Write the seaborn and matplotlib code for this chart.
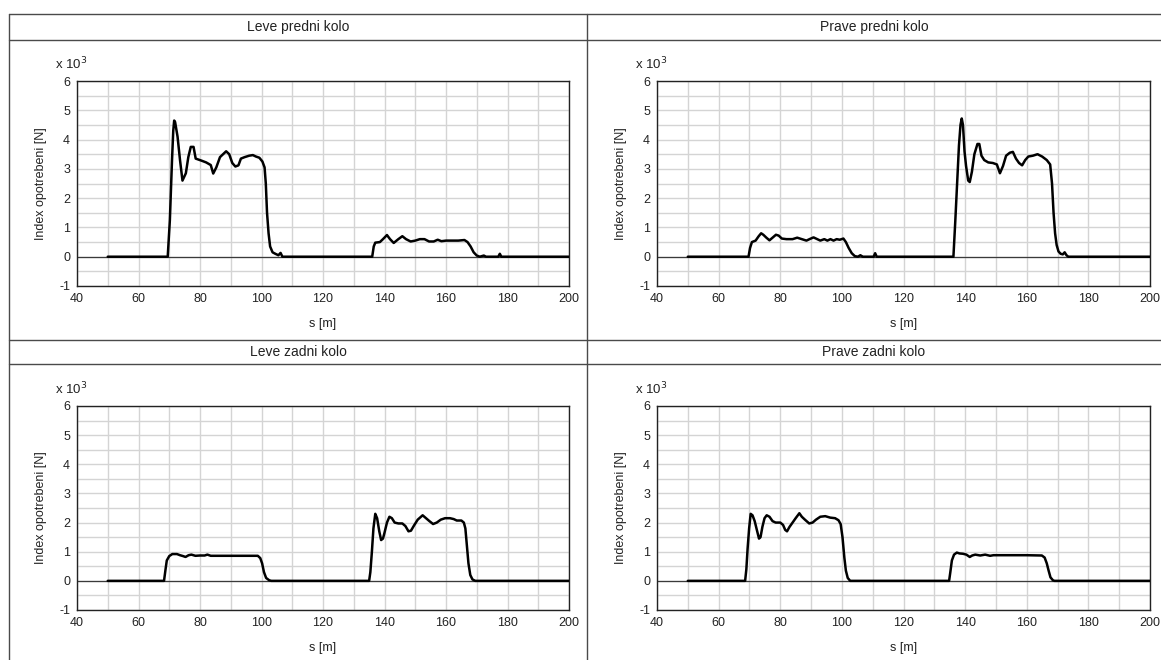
import numpy as np
import pandas as pd
import matplotlib
matplotlib.use("Agg")
import matplotlib.pyplot as plt
from matplotlib.lines import Line2D
from matplotlib.ticker import MultipleLocator
import seaborn as sns

sns.set_style("white")
plt.rcParams["font.family"] = ["Liberation Sans", "DejaVu Sans"]
plt.rcParams["axes.unicode_minus"] = False

# Wear index along the track, per wheel (values in thousands of N)
lf_s = [50, 69.5, 70.2, 70.9, 71.3, 71.6, 71.9, 72.7, 73.5, 74.3, 75.4, 76.2, 77.0, 77.9, 78.6,
        80.5, 82.0, 83.5, 84.3, 85.3, 86.5, 88.5, 89.5, 90.5, 91.5, 92.5, 93.3, 94.5, 96.0, 97.2,
        98.2, 99.3, 100.3, 101.0, 101.4, 101.8, 102.3, 102.8, 103.6, 104.5, 105.5, 106.2, 106.8,
        136.0, 136.5, 137.0, 138.5, 139.5, 140.8, 141.8, 143.0, 144.5, 145.8, 147.0, 148.5, 150.0,
        151.5, 153.0, 154.5, 156.0, 157.3, 158.5, 160.0, 162.0, 164.0, 166.0, 167.0, 168.0, 169.0,
        170.0, 171.0, 172.3, 173.0, 177.0, 177.5, 178.0, 200]
lf_v = [0, 0, 1.25, 3.3, 4.3, 4.65, 4.6, 4.1, 3.3, 2.6, 2.85, 3.4, 3.75, 3.75, 3.35,
        3.28, 3.22, 3.13, 2.84, 3.05, 3.4, 3.6, 3.5, 3.2, 3.08, 3.12, 3.35, 3.4, 3.45, 3.47,
        3.42, 3.38, 3.25, 3.05, 2.5, 1.5, 0.8, 0.35, 0.15, 0.1, 0.05, 0.13, 0,
        0, 0.35, 0.48, 0.5, 0.6, 0.74, 0.6, 0.47, 0.6, 0.7, 0.6, 0.52, 0.55,
        0.6, 0.6, 0.52, 0.52, 0.58, 0.53, 0.55, 0.55, 0.55, 0.57, 0.5, 0.35, 0.15,
        0.04, 0, 0.04, 0, 0, 0.1, 0, 0]

rf_s = [50, 69.7, 70.2, 70.8, 72.0, 73.0, 73.8, 74.5, 75.5, 76.5, 77.5, 78.6, 79.5, 80.5, 82.0,
        84.0, 85.5, 87.0, 88.5, 89.5, 90.8, 92.0, 93.0, 94.3, 95.3, 96.3, 97.3, 98.3, 99.3, 100.5,
        101.3, 102.2, 103.2, 104.2, 105.2, 106.0, 106.8, 110.3, 110.8, 111.3,
        136.2, 136.8, 137.4, 138.0, 138.5, 138.9, 139.3, 139.8, 140.3, 141.0, 141.5, 142.2, 143.0,
        144.0, 144.6, 145.3, 146.2, 147.5, 149.0, 150.3, 151.3, 152.3, 153.3, 154.5, 155.5, 156.5,
        157.5, 158.5, 159.5, 160.5, 162.0, 163.5, 165.0, 166.5, 167.6, 168.2, 168.7, 169.2, 169.7,
        170.3, 171.0, 171.7, 172.3, 172.9, 173.5, 200]
rf_v = [0, 0, 0.3, 0.5, 0.55, 0.7, 0.8, 0.75, 0.65, 0.56, 0.65, 0.75, 0.72, 0.62, 0.6,
        0.6, 0.65, 0.6, 0.55, 0.6, 0.66, 0.6, 0.55, 0.6, 0.55, 0.6, 0.55, 0.6, 0.58, 0.62,
        0.5, 0.3, 0.12, 0.02, 0, 0.05, 0, 0, 0.12, 0,
        0, 1.2, 2.5, 3.8, 4.5, 4.72, 4.5, 3.6, 3.1, 2.6, 2.55, 2.9, 3.5,
        3.85, 3.85, 3.45, 3.3, 3.22, 3.2, 3.15, 2.85, 3.1, 3.45, 3.55, 3.58, 3.35,
        3.2, 3.12, 3.3, 3.42, 3.45, 3.5, 3.42, 3.3, 3.15, 2.5, 1.5, 0.8, 0.4,
        0.18, 0.1, 0.08, 0.15, 0.05, 0, 0]

lr_s = [50, 68.3, 68.8, 69.2, 70.0, 71.0, 72.5, 73.5, 74.5, 75.3, 76.3, 77.2, 78.5, 80.0, 81.5,
        82.4, 83.5, 86.0, 90.0, 95.0, 98.8, 99.6, 100.2, 100.8, 101.5, 102.5, 103.2,
        135.0, 135.4, 135.9, 136.4, 137.0, 137.6, 138.3, 138.9, 139.5, 140.0, 140.8, 141.6, 142.4,
        143.3, 144.5, 145.8, 146.8, 147.8, 148.6, 149.6, 150.8, 152.4, 153.5, 154.6, 155.8, 157.0,
        158.3, 159.7, 161.3, 162.5, 163.5, 165.0, 165.8, 166.3, 166.8, 167.3, 167.9, 168.6, 169.5, 200]
lr_v = [0, 0, 0.4, 0.7, 0.85, 0.92, 0.92, 0.88, 0.85, 0.82, 0.88, 0.9, 0.86, 0.87, 0.87,
        0.9, 0.86, 0.86, 0.86, 0.86, 0.86, 0.78, 0.6, 0.3, 0.1, 0.02, 0,
        0, 0.3, 1.0, 1.8, 2.3, 2.15, 1.7, 1.4, 1.45, 1.65, 2.0, 2.2, 2.15,
        2.0, 1.97, 1.97, 1.88, 1.7, 1.72, 1.9, 2.1, 2.25, 2.15, 2.05, 1.95, 2.0,
        2.1, 2.15, 2.15, 2.12, 2.07, 2.07, 2.0, 1.8, 1.2, 0.6, 0.2, 0.05, 0, 0]

rr_s = [50, 68.6, 69.0, 69.4, 69.9, 70.4, 71.0, 71.7, 72.4, 73.1, 73.6, 74.2, 74.9, 75.6, 76.5,
        77.5, 78.5, 80.0, 80.9, 81.6, 82.2, 83.0, 84.0, 85.0, 86.2, 87.0, 88.0, 89.4, 90.5, 91.6,
        93.0, 94.6, 96.2, 97.8, 98.9, 99.6, 100.2, 100.8, 101.3, 101.9, 102.7,
        134.8, 135.2, 135.7, 136.4, 137.3, 138.2, 139.3, 140.4, 141.5, 142.3, 143.3, 144.9, 146.5,
        148.1, 149.2, 152.0, 156.0, 160.0, 164.9, 165.8, 166.5, 167.1, 167.7, 168.5, 169.0, 200]
rr_v = [0, 0, 0.4, 1.1, 1.8, 2.3, 2.25, 2.05, 1.75, 1.45, 1.5, 1.85, 2.15, 2.25, 2.2,
        2.05, 2.0, 2.0, 1.92, 1.75, 1.7, 1.85, 2.0, 2.15, 2.32, 2.2, 2.1, 1.97, 2.0, 2.1,
        2.2, 2.22, 2.17, 2.15, 2.08, 1.95, 1.5, 0.8, 0.35, 0.1, 0,
        0, 0.3, 0.7, 0.9, 0.97, 0.94, 0.93, 0.9, 0.82, 0.87, 0.9, 0.87, 0.9,
        0.86, 0.88, 0.88, 0.88, 0.88, 0.87, 0.8, 0.6, 0.35, 0.12, 0.02, 0, 0]

titles = ["Leve predni kolo", "Prave predni kolo", "Leve zadni kolo", "Prave zadni kolo"]
series = [(lf_s, lf_v), (rf_s, rf_v), (lr_s, lr_v), (rr_s, rr_v)]
x_label = "s [m]"
y_label = "Index opotrebeni [N]"
x_ticks = [40, 60, 80, 100, 120, 140, 160, 180, 200]
y_ticks = [-1, 0, 1, 2, 3, 4, 5, 6]

W, H = 1161, 660
fig = plt.figure(figsize=(W / 100, H / 100), dpi=100)

def px_rect(left, top, right, bottom):
    return [left / W, 1 - bottom / H, (right - left) / W, (bottom - top) / H]

axes_px = [(77, 81, 569, 286), (657, 81, 1150, 286),
           (77, 406, 569, 610), (657, 406, 1150, 610)]
header_centers = [(298, 27), (874, 27), (298, 352), (874, 352)]

for (s, v), title, box, hc in zip(series, titles, axes_px, header_centers):
    ax = fig.add_axes(px_rect(*box))
    df = pd.DataFrame({"s": s, "v": v})
    ax.axhline(0, color="#3a3a3a", lw=0.9, zorder=2)
    sns.lineplot(data=df, x="s", y="v", ax=ax, color="black", lw=1.8,
                 estimator=None, sort=False, zorder=3)
    ax.set_xlim(40, 200)
    ax.set_ylim(-1, 6)
    ax.set_xticks(x_ticks)
    ax.set_yticks(y_ticks)
    ax.xaxis.set_minor_locator(MultipleLocator(10))
    ax.yaxis.set_minor_locator(MultipleLocator(0.5))
    ax.grid(which="both", color="#d4d4d4", lw=1.0, zorder=0)
    ax.set_axisbelow(True)
    ax.tick_params(which="both", direction="out", length=4, width=0.8,
                   color="#333333", labelsize=9, labelcolor="#222222", pad=1)
    for sp in ax.spines.values():
        sp.set_color("#222222")
        sp.set_linewidth(1.0)
    ax.set_xlabel(x_label, fontsize=9, color="#222222")
    ax.set_ylabel(y_label, fontsize=9, color="#222222")
    ax.xaxis.set_label_coords(0.5, -0.155)
    ax.yaxis.set_label_coords(-0.06, 0.5)
    ax.text(-0.045, 1.085, r"x 10$^3$", transform=ax.transAxes, fontsize=9.5,
            color="#222222", ha="left", va="center")
    fig.text(hc[0] / W, 1 - hc[1] / H, title, fontsize=10, color="#222222",
             ha="center", va="center")

# Table frame around the four panels
frame_color = "#4a4a4a"
def hline(y, x0=9, x1=W):
    fig.add_artist(Line2D([x0 / W, x1 / W], [1 - y / H, 1 - y / H],
                          color=frame_color, lw=1.0))
def vline(x, y0=14, y1=H):
    fig.add_artist(Line2D([x / W, x / W], [1 - y0 / H, 1 - y1 / H],
                          color=frame_color, lw=1.0))

for y in (14, 40, 340, 364):
    hline(y)
vline(9)
vline(587)

fig.savefig("out.png", dpi=100)
